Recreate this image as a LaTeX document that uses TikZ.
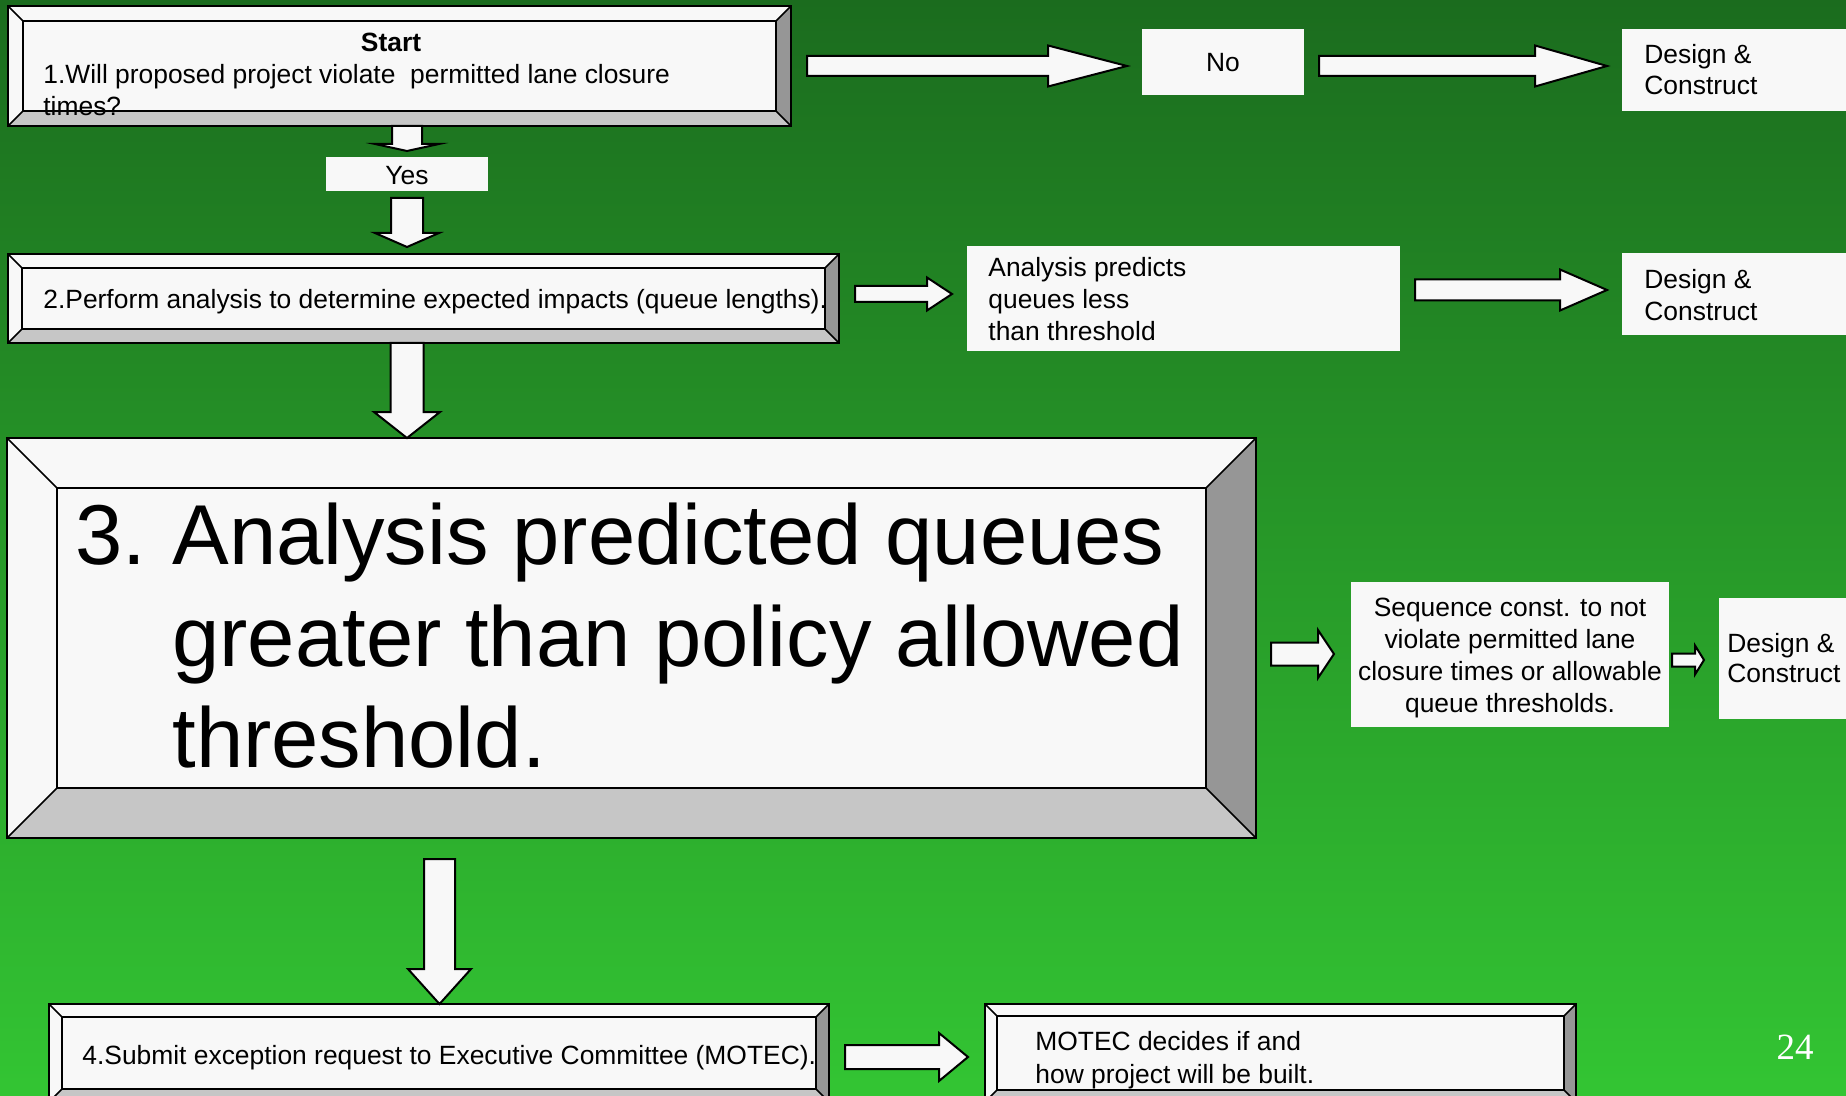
\documentclass[tikz,border=0pt]{standalone}
\usepackage{fontspec}
\setmainfont{Liberation Sans}
\newfontfamily\pagefont{Liberation Serif}
\usetikzlibrary{calc}

\definecolor{bgtop}{RGB}{27,108,30}
\definecolor{bgmid}{RGB}{38,150,40}
\definecolor{bgbot}{RGB}{51,197,51}
\definecolor{face}{RGB}{248,248,248}
\definecolor{bvbottom}{RGB}{198,198,198}
\definecolor{bvside}{RGB}{150,150,150}

\tikzset{
  bvline/.style={draw=black, line width=0.8pt},
  plainbox/.style={fill=face},
  blockarrow/.style={fill=face, draw=black, line width=1pt, line join=miter},
  txt/.style={font=\fontsize{13.2}{16}\selectfont, inner sep=0pt, align=left, anchor=north west},
}

% bevelled box: name, outer NW, outer SE, bevel width
\newcommand{\bevelbox}[4]{%
  \coordinate (#1-nw) at (#2);
  \coordinate (#1-se) at (#3);
  \coordinate (#1-ne) at (#1-nw -| #1-se);
  \coordinate (#1-sw) at (#1-nw |- #1-se);
  \coordinate (#1-inw) at ($(#1-nw)+(#4,#4)$);
  \coordinate (#1-ise) at ($(#1-se)+(-#4,-#4)$);
  \coordinate (#1-ine) at (#1-inw -| #1-ise);
  \coordinate (#1-isw) at (#1-inw |- #1-ise);
  \fill[face] (#1-nw) rectangle (#1-se);
  \fill[bvbottom] (#1-sw) -- (#1-isw) -- (#1-ise) -- (#1-se) -- cycle;
  \fill[bvside] (#1-ne) -- (#1-ine) -- (#1-ise) -- (#1-se) -- cycle;
  \draw[bvline] (#1-nw) rectangle (#1-se);
  \draw[bvline] (#1-inw) rectangle (#1-ise);
  \draw[bvline] (#1-nw) -- (#1-inw) (#1-ne) -- (#1-ine)
    (#1-sw) -- (#1-isw) (#1-se) -- (#1-ise);
}
% block arrows: from, to, shaft half, head half, head length
\newcommand{\rarrow}[5]{%
  \draw[blockarrow] ($(#1)+(0,-#3)$) -- ($(#2)+(-#5,-#3)$) -- ($(#2)+(-#5,-#4)$)
    -- (#2) -- ($(#2)+(-#5,#4)$) -- ($(#2)+(-#5,#3)$) -- ($(#1)+(0,#3)$) -- cycle;}
\newcommand{\darrow}[5]{%
  \draw[blockarrow] ($(#1)+(-#3,0)$) -- ($(#2)+(-#3,-#5)$) -- ($(#2)+(-#4,-#5)$)
    -- (#2) -- ($(#2)+(#4,-#5)$) -- ($(#2)+(#3,-#5)$) -- ($(#1)+(#3,0)$) -- cycle;}

\begin{document}
\begin{tikzpicture}[x=0.5pt, y=-0.5pt]
  \useasboundingbox (0,0) rectangle (1846,1096);
  \clip (0,0) rectangle (1846,1096);

  % background
  \shade[top color=bgtop, middle color=bgmid, bottom color=bgbot] (0,0) rectangle (1846,1096);

  % bevelled step boxes
  \bevelbox{b1}{8,6}{791,126}{15}
  \bevelbox{b2}{8,254}{839,343}{14}
  \bevelbox{b3}{7,438}{1256,838}{50}
  \bevelbox{b4}{49,1004}{829,1102}{13}
  \bevelbox{b5}{985,1004}{1576,1102}{12}

  % plain answer boxes
  \fill[plainbox] (326,157) rectangle (488,191);
  \fill[plainbox] (1142,29) rectangle (1304,95);
  \fill[plainbox] (1622,29) rectangle (1850,111);
  \fill[plainbox] (967,246) rectangle (1400,351);
  \fill[plainbox] (1622,253) rectangle (1850,335);
  \fill[plainbox] (1351,582) rectangle (1669,727);
  \fill[plainbox] (1719,598) rectangle (1850,719);

  % texts
  \node[txt, anchor=north, font=\fontsize{13.2}{16}\selectfont\bfseries] (start) at (391,33) {Start};
  \node[txt] (q1) at (43,63.5) {1.Will proposed project violate\ \ permitted lane closure\\times?};
  \node[txt, anchor=north] (yes) at (407,166) {Yes};
  \node[txt, anchor=north] (no) at (1223,53) {No};
  \node[txt, font=\fontsize{13.2}{15.5}\selectfont] (dc1) at (1644,44) {Design \&\\Construct};
  \node[txt] (q2) at (43,289) {2.Perform analysis to determine expected impacts (queue lengths).};
  \node[txt] (less) at (988,257) {Analysis predicts\\queues less\\than threshold};
  \node[txt] (dc2) at (1644,269) {Design \&\\Construct};
  \node[txt, font=\fontsize{42.5}{50.75}\selectfont] (q3) at (75,503)
    {\makebox[48.5pt][l]{3.}Analysis predicted queues\\
     \hspace*{48.5pt}greater than policy allowed\\
     \hspace*{48.5pt}threshold.};
  \node[txt, anchor=north, align=center] (seq) at (1510,598)
    {Sequence const. to not\\violate permitted lane\\closure times or allowable\\queue thresholds.};
  \node[txt, font=\fontsize{13.2}{15}\selectfont] (dc3) at (1727,633) {Design \&\\Construct};
  \node[txt] (q4) at (82,1045) {4.Submit exception request to Executive Committee (MOTEC).};
  \node[txt, font=\fontsize{13.2}{16.5}\selectfont] (motec) at (1035,1031) {MOTEC decides if and\\how project will be built.};
  \node[font=\pagefont\fontsize{18.5}{20}\selectfont, text=white, inner sep=0pt] (page) at (1795,1047) {24};

  % arrow end points
  \coordinate (q1-no) at (807,66);     \coordinate (no-in) at (1127,66);
  \coordinate (no-out) at (1319,66);   \coordinate (dc1-in) at (1607,66);
  \coordinate (q1-yes) at (407,126);   \coordinate (yes-in) at (407,151);
  \coordinate (yes-out) at (407,198);  \coordinate (q2-in) at (407,247);
  \coordinate (q2-out) at (855,294);   \coordinate (less-in) at (952,294);
  \coordinate (less-out) at (1415,290);\coordinate (dc2-in) at (1607,290);
  \coordinate (q2-down) at (407,343);  \coordinate (q3-in) at (407,438);
  \coordinate (q3-out) at (1271,654);  \coordinate (seq-in) at (1334,654);
  \coordinate (seq-out) at (1672,660); \coordinate (dc3-in) at (1704,660);
  \coordinate (q3-down) at (439.5,859);\coordinate (q4-in) at (439.5,1004);
  \coordinate (q4-out) at (845,1057);  \coordinate (motec-in) at (968,1057);

  % block arrows
  \rarrow{q1-no}{no-in}{10}{20.5}{79}
  \rarrow{no-out}{dc1-in}{10}{20.5}{72}
  \darrow{q1-yes}{yes-in}{15}{32}{7}
  \darrow{yes-out}{q2-in}{16}{32}{14}
  \rarrow{q2-out}{less-in}{8}{16.5}{25}
  \rarrow{less-out}{dc2-in}{10.5}{20.5}{47}
  \darrow{q2-down}{q3-in}{16.5}{33}{26}
  \rarrow{q3-out}{seq-in}{11.5}{24}{16}
  \rarrow{seq-out}{dc3-in}{6.5}{14.5}{9}
  \darrow{q3-down}{q4-in}{15.5}{31.5}{35}
  \rarrow{q4-out}{motec-in}{12}{24}{29}
\end{tikzpicture}
\end{document}
